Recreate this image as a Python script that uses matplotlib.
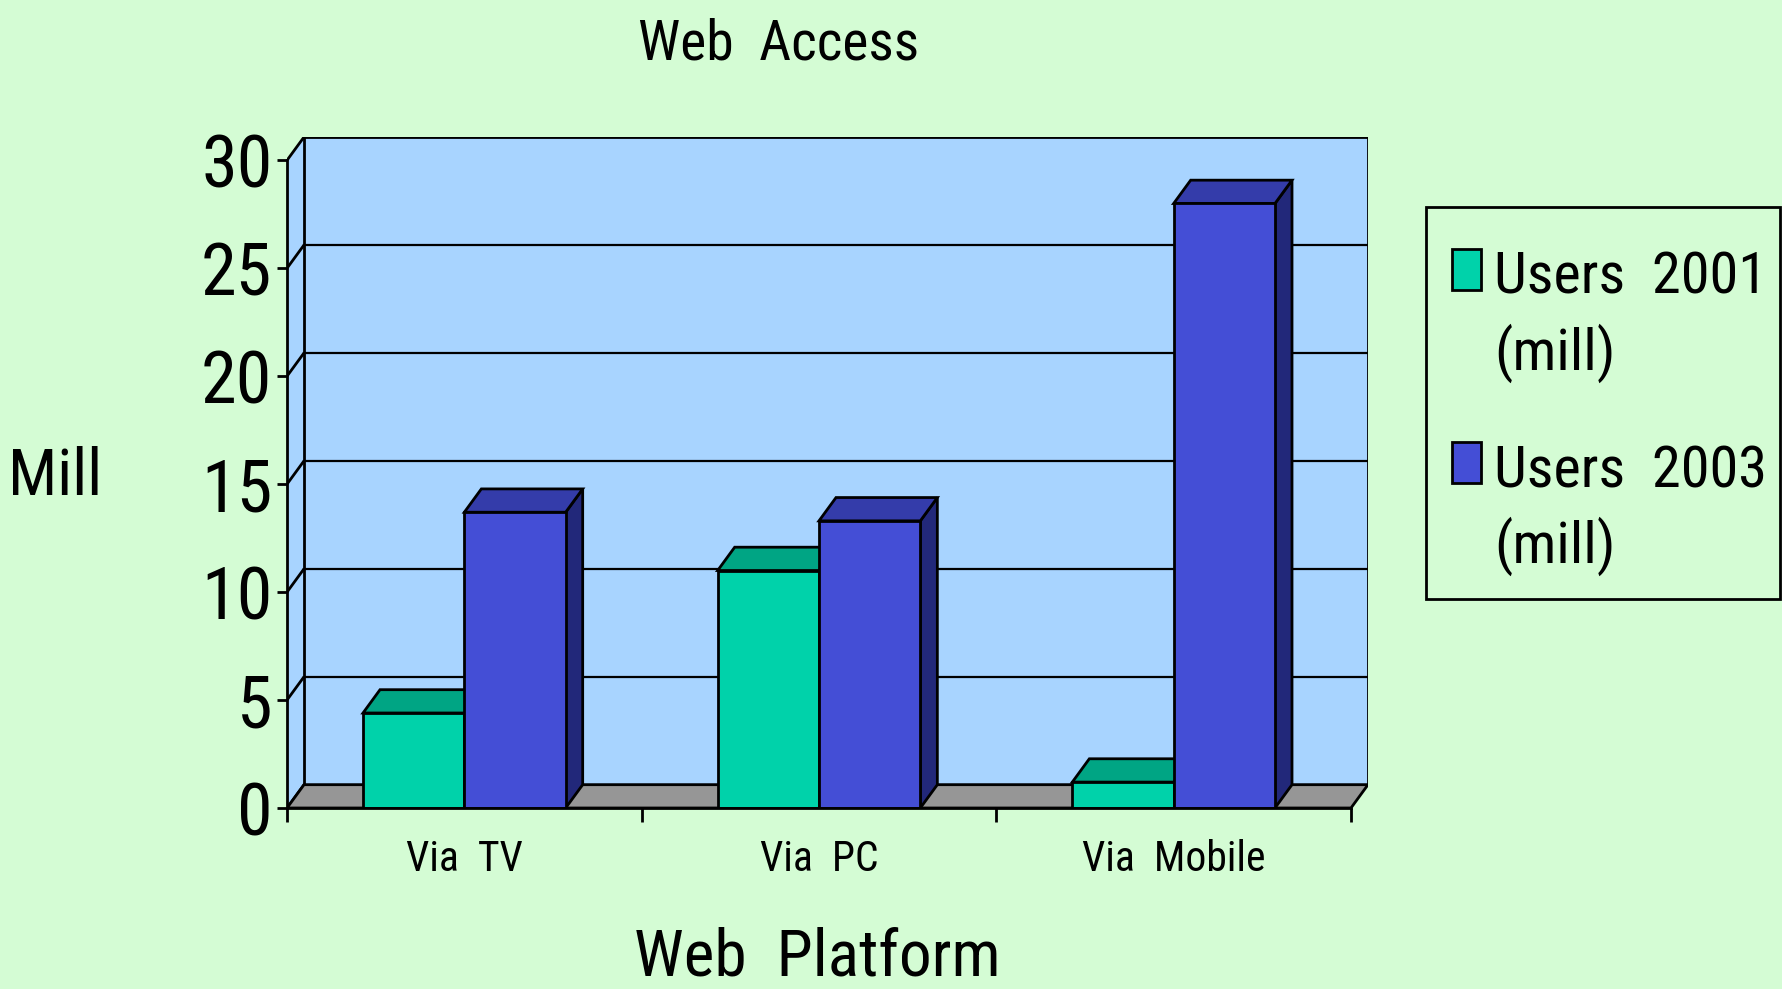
import matplotlib
matplotlib.use("Agg")
import matplotlib.pyplot as plt
from matplotlib.patches import Polygon, Rectangle
import numpy as np

plt.rcParams['font.family'] = ['Roboto Condensed', 'Roboto', 'DejaVu Sans']

categories = ["Via  TV", "Via  PC", "Via  Mobile"]
users_2001 = [4.4, 11.0, 1.2]
users_2003 = [13.7, 13.3, 28.0]
series_names = ["Users  2001\n(mill)", "Users  2003\n(mill)"]
yticks = [0, 5, 10, 15, 20, 25, 30]

bg = "#D4FCD4"
wall = "#A8D4FF"
floor = "#969696"
faces = {
    "2001": ("#00D2AA", "#00A584", "#007A62"),
    "2003": ("#444ED6", "#343CAA", "#22287A"),
}

W, H = 1782, 989
fig = plt.figure(figsize=(W / 100, H / 100), dpi=100, facecolor=bg)

# axes box in pixels: front axis x=287, back wall right x=1368, floor front y=808, wall top y=137
left, right, bottom, top = 287, 1368, 808, 137
ax = fig.add_axes([left / W, 1 - bottom / H, (right - left) / W, (bottom - top) / H])
ax.set_facecolor("none")

ncat = len(categories)
ymax = 30
ddx = 0.048   # depth offset (category units)
ddy = 1.08    # depth offset (value units)
ax.set_xlim(0, ncat + ddx)
ax.set_ylim(0, ymax + ddy)

lw = 2.0
# side wall and back wall
ax.add_patch(Polygon([(0, 0), (ddx, ddy), (ddx, ymax + ddy), (0, ymax)],
                     closed=True, fc=wall, ec="none", zorder=0))
ax.add_patch(Rectangle((ddx, ddy), ncat, ymax, fc=wall, ec="black", lw=lw, zorder=0))
for k in yticks:
    ax.plot([0, ddx], [k, k + ddy], color="black", lw=lw, zorder=1, solid_capstyle="butt")
    ax.plot([ddx, ncat + ddx], [k + ddy, k + ddy], color="black", lw=1.6, zorder=1)
# floor
ax.add_patch(Polygon([(0, 0), (ncat, 0), (ncat + ddx, ddy), (ddx, ddy)],
                     closed=True, fc=floor, ec="black", lw=lw, zorder=2))

# bars
w = 1 / 3.5
centers = np.arange(ncat) + 0.5
z = 3
for i, c in enumerate(centers):
    for key, x0, v in (("2001", c - w, users_2001[i]), ("2003", c, users_2003[i])):
        front, topc, side = faces[key]
        ax.add_patch(Polygon([(x0 + w, 0), (x0 + w + ddx, ddy), (x0 + w + ddx, v + ddy), (x0 + w, v)],
                             closed=True, fc=side, ec="black", lw=lw, zorder=z))
        ax.add_patch(Polygon([(x0, v), (x0 + w, v), (x0 + w + ddx, v + ddy), (x0 + ddx, v + ddy)],
                             closed=True, fc=topc, ec="black", lw=lw, zorder=z + 1))
        ax.bar(x0, v, width=w, align="edge", color=front, edgecolor="black", lw=lw, zorder=z + 2)
        z += 3

# axes / ticks
for s in ("top", "right"):
    ax.spines[s].set_visible(False)
ax.spines["left"].set_bounds(0, ymax)
ax.spines["bottom"].set_bounds(0, ncat)
ax.spines["left"].set_linewidth(lw)
ax.spines["bottom"].set_linewidth(lw)
ax.spines["left"].set_zorder(50)
ax.spines["bottom"].set_zorder(50)
ax.set_yticks(yticks)
ax.set_yticklabels([str(t) for t in yticks])
ax.tick_params(axis="y", length=7.5, width=lw, pad=3, labelsize=52)
ax.set_xticks(np.arange(ncat + 1))
ax.set_xticklabels([])
ax.set_xticks(centers, minor=True)
ax.set_xticklabels(categories, minor=True)
ax.tick_params(axis="x", which="major", length=10, width=lw)
ax.tick_params(axis="x", which="minor", length=0, pad=22, labelsize=30)

ax.set_ylabel("Mill", rotation=0, fontsize=47, ha="center", va="center")
ax.yaxis.set_label_coords(-0.2146, 0.493)
ax.set_xlabel("Web  Platform", fontsize=47, ha="center", va="center")
ax.xaxis.set_label_coords(0.491, -0.2234)
ax.set_title("Web  Access", fontsize=40, x=0.455, y=(bottom - 52) / (bottom - top), va="center")

# legend drawn in figure pixels
def fx(px):
    return px / W


def fy(py):
    return 1 - py / H


fig.patches.append(Rectangle((fx(1426), fy(599)), fx(1780) - fx(1426), fy(207) - fy(599),
                             transform=fig.transFigure, fc="none", ec="black", lw=lw))
for name, key, y0, y1, b1, b2 in ((series_names[0], "2001", 249, 290, 293, 370),
                                  (series_names[1], "2003", 442, 483, 487, 563)):
    fig.patches.append(Rectangle((fx(1452), fy(y1)), fx(1481) - fx(1452), fy(y0) - fy(y1),
                                 transform=fig.transFigure, fc=faces[key][0], ec="black", lw=lw))
    first, second = name.split("\n")
    fig.text(fx(1494), fy(b1), first, fontsize=42, va="baseline", ha="left")
    fig.text(fx(1494), fy(b2), second, fontsize=42, va="baseline", ha="left")

fig.savefig("out.png", dpi=100, facecolor=bg)
